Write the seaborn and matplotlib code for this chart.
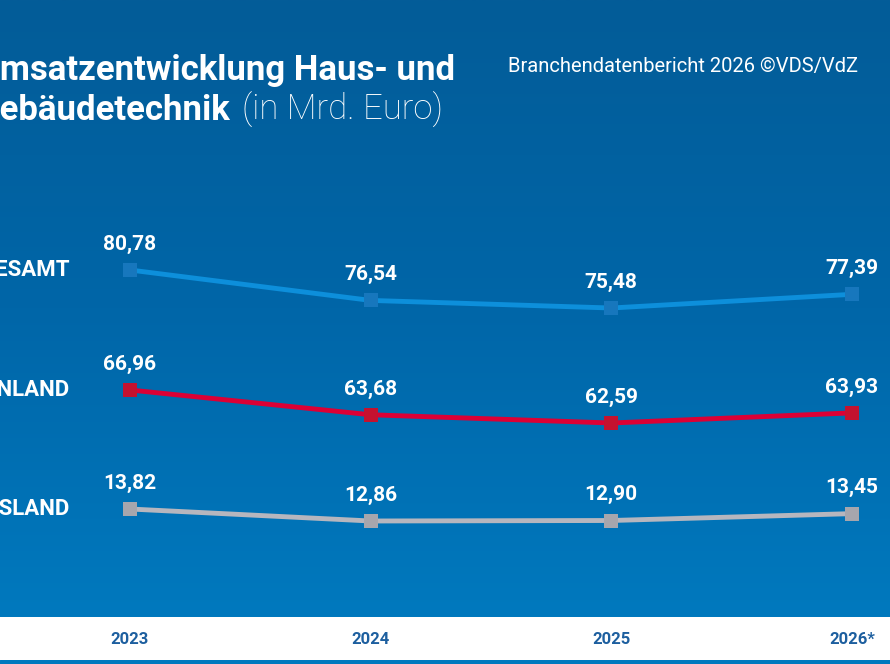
import numpy as np
import pandas as pd
import matplotlib
matplotlib.use("Agg")
import matplotlib.pyplot as plt
from matplotlib.colors import LinearSegmentedColormap
import seaborn as sns

sns.set_theme(style="white")
plt.rcParams['font.family'] = ['Roboto', 'DejaVu Sans']

# Daten (Mrd. Euro)
years = ['2023', '2024', '2025', '2026*']
gesamt = [80.78, 76.54, 75.48, 77.39]
inland = [66.96, 63.68, 62.59, 63.93]
ausland = [13.82, 12.86, 12.90, 13.45]

df = pd.DataFrame({'x': range(len(years)), 'GESAMT': gesamt,
                   'INLAND': inland, 'AUSLAND': ausland})

W, H = 890, 664
fig = plt.figure(figsize=(W / 100, H / 100), dpi=100)
fig.patch.set_facecolor('white')

# Hintergrund mit Verlauf
bg = fig.add_axes([0, 1 - 617 / H, 1, 617 / H])
grad = LinearSegmentedColormap.from_list('bg', ['#035c98', '#0066a8', '#0079be'])
bg.imshow(np.linspace(0, 1, 256).reshape(-1, 1), aspect='auto', cmap=grad,
          extent=[0, 1, 0, 1])
bg.axis('off')

strip = fig.add_axes([0, 0, 1, 4 / H])
strip.axis('off')
strip.add_patch(plt.Rectangle((0, 0), 1, 1, color='#0079be', transform=strip.transAxes))

# Achsen je Reihe (Pixel oben, Pixel unten, ylim, Linienfarbe, Markerfarbe)
panels = [
    ('GESAMT', 200, 340, (71.02, 90.54), '#0d8fdb', '#1777bd'),
    ('INLAND', 340, 460, (57.69, 73.58), '#dc0035', '#c4122f'),
    ('AUSLAND', 460, 600, (6.54, 17.74), '#b6b6be', '#a6a6ad'),
]
xlim = (-0.540, 3.158)

for name, top, bot, ylim, lc, mc in panels:
    ax = fig.add_axes([0, 1 - bot / H, 1, (bot - top) / H])
    ax.patch.set_alpha(0)
    sns.lineplot(data=df, x='x', y=name, ax=ax, color=lc, linewidth=3.5,
                 marker='s', markersize=10.5, markerfacecolor=mc,
                 markeredgewidth=0)
    ax.set_xlim(*xlim)
    ax.set_ylim(*ylim)
    ax.axis('off')
    for i, v in enumerate(df[name]):
        ax.annotate(f"{v:.2f}".replace('.', ','), xy=(i, v), xytext=(0, 18.5),
                    textcoords='offset points', ha='center', va='center',
                    color='white', fontsize=15, fontweight='bold')
    ax.text(-0.25, df[name].iloc[0], name, ha='right', va='center',
            color='white', fontsize=16, fontweight='bold')

# Jahresbeschriftung im weissen Band
xa = fig.add_axes([0, 0, 1, 1])
xa.set_xlim(*xlim)
xa.set_ylim(H, 0)
xa.patch.set_alpha(0)
xa.axis('off')
for i, yr in enumerate(years):
    xa.text(i, 639, yr, ha='center', va='center',
            color='#1d5f9f', fontsize=12, fontweight='bold')

# Titel
fig.text(455 / W, 1 - 80 / H, 'Umsatzentwicklung Haus- und', ha='right',
         va='baseline', color='white', fontsize=25, fontweight='bold')
fig.text(230 / W, 1 - 120 / H, 'Gebäudetechnik', ha='right',
         va='baseline', color='white', fontsize=25, fontweight='bold')
fig.text(443 / W, 1 - 120 / H, '(in Mrd. Euro)', ha='right',
         va='baseline', color='white', fontsize=25, fontweight='light')
fig.text(858 / W, 1 - 72 / H, 'Branchendatenbericht 2026 ©VDS/VdZ', ha='right',
         va='baseline', color='white', fontsize=14.5)

fig.savefig('out.png', dpi=100)
